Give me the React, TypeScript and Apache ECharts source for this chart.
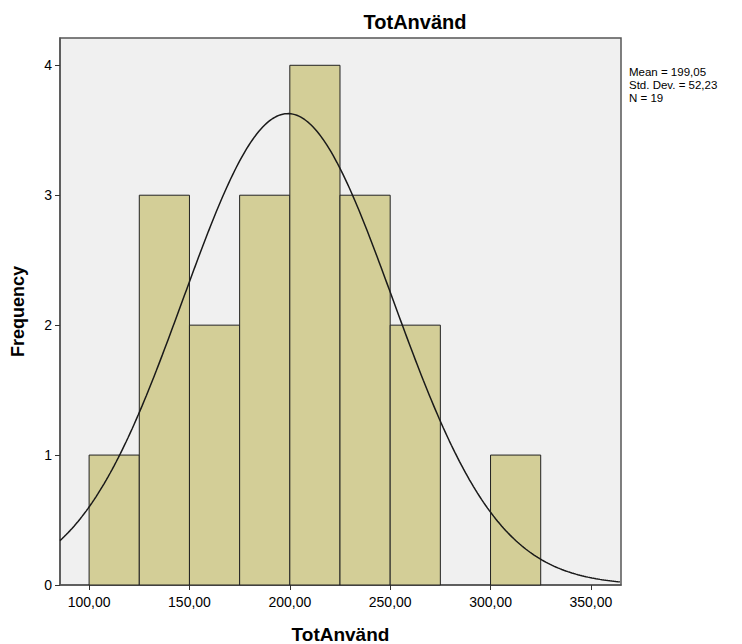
import React, { useEffect, useRef } from "react";
import * as echarts from "echarts";

const binStarts = [100, 125, 150, 175, 200, 225, 250, 275, 300];
const binWidth = 25;
const frequencies = [1, 3, 2, 3, 4, 3, 2, 0, 1];
const xTicks = [100, 150, 200, 250, 300, 350];
const yTicks = [0, 1, 2, 3, 4];
const meanValue = 199.05;
const stdDev = 52.23;
const nCount = 19;
const statsLines = ["Mean = 199,05", "Std. Dev. = 52,23", "N = 19"];

const X_MIN = 85.5;
const X_MAX = 365;
const Y_MAX = 4.21;

const FONT = "'Liberation Sans', Arial, sans-serif";

export default function App() {
  const ref = useRef<HTMLDivElement>(null);
  useEffect(() => {
    if (!ref.current) return;
    const chart = echarts.init(ref.current, undefined, { renderer: "svg" });

    const barData = binStarts
      .map((s, i) => [s, s + binWidth, frequencies[i]])
      .filter((d) => d[2] > 0);
    const curve: number[][] = [];
    const scale = (nCount * binWidth) / (stdDev * Math.sqrt(2 * Math.PI));
    for (let x = X_MIN; x <= X_MAX + 0.001; x += 1) {
      const z = (x - meanValue) / stdDev;
      curve.push([x, scale * Math.exp(-0.5 * z * z)]);
    }

    chart.setOption({
      animation: false,
      title: {
        text: "TotAnvänd",
        left: 410,
        textAlign: "center",
        top: 7,
        textStyle: { fontFamily: FONT, fontSize: 20, fontWeight: "bold", color: "#000" },
      },
      grid: {
        left: 60,
        right: 121,
        top: 38,
        bottom: 59,
        containLabel: false,
        outerBoundsMode: "none",
        show: true,
        backgroundColor: "#F0F0F0",
        borderColor: "#555",
        borderWidth: 1.5,
      },
      xAxis: {
        type: "value",
        min: X_MIN,
        max: X_MAX,
        name: "TotAnvänd",
        nameLocation: "middle",
        nameGap: 40,
        nameTextStyle: { fontFamily: FONT, fontSize: 19, fontWeight: "bold", color: "#000" },
        splitLine: { show: false },
        axisLine: { show: true, onZero: false, lineStyle: { color: "#555", width: 1.5 } },
        axisTick: { show: true, length: 5, customValues: xTicks, lineStyle: { color: "#333" } },
        axisLabel: {
          customValues: xTicks,
          fontFamily: FONT,
          fontSize: 14,
          color: "#000",
          margin: 10,
          formatter: (v: number) => v.toFixed(2).replace(".", ","),
        },
      },
      yAxis: {
        type: "value",
        min: 0,
        max: Y_MAX,
        name: "Frequency",
        nameLocation: "middle",
        nameGap: 33,
        nameTextStyle: { fontFamily: FONT, fontSize: 18, fontWeight: "bold", color: "#000" },
        splitLine: { show: false },
        axisLine: { show: true, lineStyle: { color: "#555", width: 1.5 } },
        axisTick: { show: true, length: 5, customValues: yTicks, lineStyle: { color: "#333" } },
        axisLabel: {
          customValues: yTicks,
          fontFamily: FONT,
          fontSize: 14,
          color: "#000",
          margin: 8,
        },
      },
      graphic: statsLines.map((t, i) => ({
        type: "text",
        left: 629,
        top: 66 + i * 13,
        style: {
          text: t,
          font: `11.5px ${FONT}`,
          lineHeight: 12,
          fill: "#000",
        },
      })),
      series: [
        {
          type: "custom",
          data: barData,
          encode: { x: [0, 1], y: 2 },
          renderItem: (params: any, api: any) => {
            const p0 = api.coord([api.value(0), 0]);
            const p1 = api.coord([api.value(1), api.value(2)]);
            return {
              type: "rect",
              shape: { x: p0[0], y: p1[1], width: p1[0] - p0[0], height: p0[1] - p1[1] },
              style: { fill: "#D3CE97", stroke: "#222", lineWidth: 1 },
            };
          },
          z: 2,
        },
        {
          type: "line",
          data: curve,
          showSymbol: false,
          lineStyle: { color: "#1a1a1a", width: 1.5 },
          z: 3,
        },
      ],
    });
    return () => chart.dispose();
  }, []);
  return (
    <div
      ref={ref}
      style={{ position: "fixed", left: 0, top: 0, width: 742, height: 644, background: "#fff" }}
    />
  );
}
